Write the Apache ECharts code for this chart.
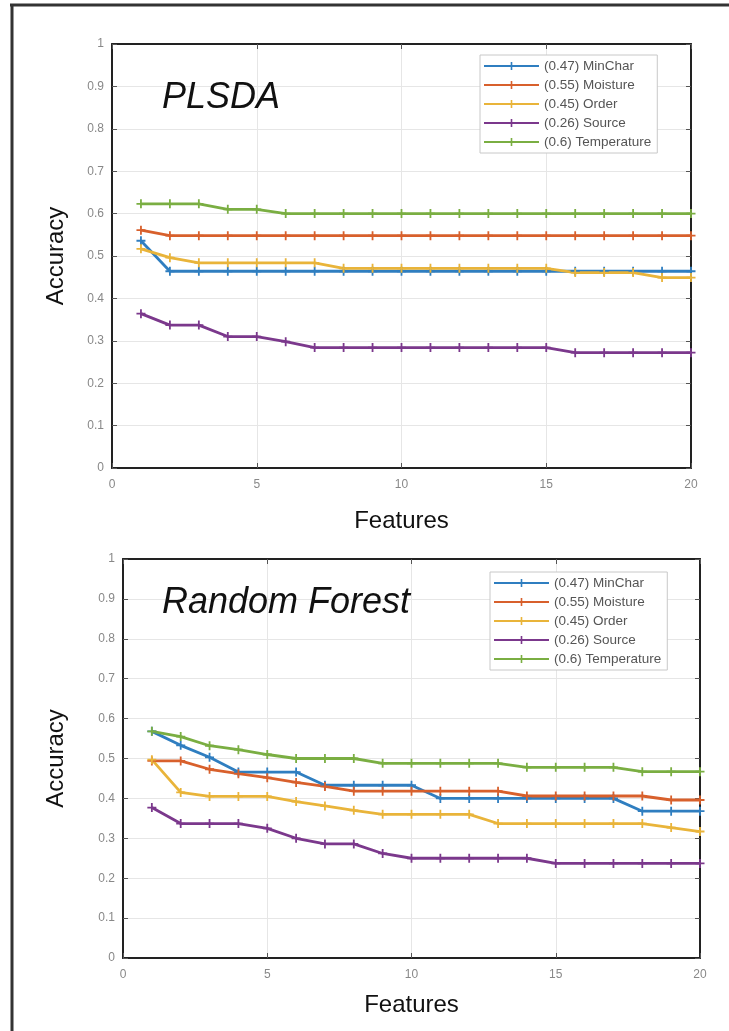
<!DOCTYPE html>
<html>
<head>
<meta charset="utf-8">
<script src="https://cdn.jsdelivr.net/npm/echarts@6/dist/echarts.min.js"></script>
<style>
  html, body { margin: 0; padding: 0; background: #fff; }
  #box { width: 729px; height: 1031px; }
</style>
</head>
<body>
<div id="box"></div>
<script>
// feature counts on the x axis
var features = [1, 2, 3, 4, 5, 6, 7, 8, 9, 10, 11, 12, 13, 14, 15, 16, 17, 18, 19, 20];
var seriesNames = ['(0.47) MinChar', '(0.55) Moisture', '(0.45) Order', '(0.26) Source', '(0.6) Temperature'];
var yTicks = [0, 0.1, 0.2, 0.3, 0.4, 0.5, 0.6, 0.7, 0.8, 0.9, 1];
var xTicks = [0, 5, 10, 15, 20];

// PLSDA
var plsdaMinChar = [0.536, 0.464, 0.464, 0.464, 0.464, 0.464, 0.464, 0.464, 0.464, 0.464, 0.464, 0.464, 0.464, 0.464, 0.464, 0.464, 0.464, 0.464, 0.464, 0.464];
var plsdaMoisture = [0.561, 0.548, 0.548, 0.548, 0.548, 0.548, 0.548, 0.548, 0.548, 0.548, 0.548, 0.548, 0.548, 0.548, 0.548, 0.548, 0.548, 0.548, 0.548, 0.548];
var plsdaOrder = [0.517, 0.496, 0.484, 0.484, 0.484, 0.484, 0.484, 0.471, 0.471, 0.471, 0.471, 0.471, 0.471, 0.471, 0.471, 0.461, 0.461, 0.461, 0.449, 0.449];
var plsdaSource = [0.364, 0.337, 0.337, 0.31, 0.31, 0.298, 0.284, 0.284, 0.284, 0.284, 0.284, 0.284, 0.284, 0.284, 0.284, 0.272, 0.272, 0.272, 0.272, 0.272];
var plsdaTemperature = [0.623, 0.623, 0.623, 0.61, 0.61, 0.6, 0.6, 0.6, 0.6, 0.6, 0.6, 0.6, 0.6, 0.6, 0.6, 0.6, 0.6, 0.6, 0.6, 0.6];

// Random Forest
var rfMinChar = [0.568, 0.533, 0.503, 0.466, 0.466, 0.466, 0.433, 0.433, 0.433, 0.433, 0.4, 0.4, 0.4, 0.4, 0.4, 0.4, 0.4, 0.368, 0.368, 0.368];
var rfMoisture = [0.494, 0.494, 0.473, 0.462, 0.452, 0.44, 0.43, 0.418, 0.418, 0.418, 0.418, 0.418, 0.418, 0.406, 0.406, 0.406, 0.406, 0.406, 0.396, 0.396];
var rfOrder = [0.497, 0.415, 0.405, 0.405, 0.405, 0.392, 0.381, 0.37, 0.36, 0.36, 0.36, 0.36, 0.337, 0.337, 0.337, 0.337, 0.337, 0.337, 0.327, 0.317];
var rfSource = [0.377, 0.337, 0.337, 0.337, 0.325, 0.3, 0.286, 0.286, 0.262, 0.25, 0.25, 0.25, 0.25, 0.25, 0.237, 0.237, 0.237, 0.237, 0.237, 0.237];
var rfTemperature = [0.568, 0.555, 0.532, 0.522, 0.51, 0.5, 0.5, 0.5, 0.488, 0.488, 0.488, 0.488, 0.488, 0.478, 0.478, 0.478, 0.478, 0.467, 0.467, 0.467];

var lineColors = ['#2f7ec0', '#d8602c', '#e9b43a', '#7b388c', '#7aae42'];
var plusMarker = 'path://M4,0H6V4H10V6H6V10H4V6H0V4H4Z';

function pairs(values) {
    return values.map(function (v, i) { return [features[i], v]; });
}

function makeXAxis(gridIndex, nameGap) {
    return [{
        type: 'value',
        gridIndex: gridIndex,
        min: 0, max: 20, interval: 5,
        name: 'Features',
        nameLocation: 'middle',
        nameGap: nameGap,
        nameTextStyle: { fontSize: 24, color: '#111', fontFamily: 'Liberation Sans' },
        axisLine: { show: true, onZero: false, lineStyle: { color: '#222', width: 2 } },
        axisTick: { show: true, inside: true, length: 5, lineStyle: { color: '#555' } },
        axisLabel: { color: '#888', fontSize: 12, margin: 11 },
        splitLine: { show: true, lineStyle: { color: '#e6e6e6', width: 1 } }
    }, {
        type: 'value',
        gridIndex: gridIndex,
        position: 'top',
        min: 0, max: 20, interval: 5,
        axisLine: { show: true, onZero: false, lineStyle: { color: '#222', width: 2 } },
        axisTick: { show: true, inside: true, length: 5, lineStyle: { color: '#555' } },
        axisLabel: { show: false },
        splitLine: { show: false }
    }];
}

function makeYAxis(gridIndex, nameGap) {
    return [{
        type: 'value',
        gridIndex: gridIndex,
        min: 0, max: 1, interval: 0.1,
        name: 'Accuracy',
        nameLocation: 'middle',
        nameGap: nameGap,
        nameTextStyle: { fontSize: 24, color: '#111', fontFamily: 'Liberation Sans' },
        axisLine: { show: true, onZero: false, lineStyle: { color: '#222', width: 2 } },
        axisTick: { show: true, inside: true, length: 5, lineStyle: { color: '#555' } },
        axisLabel: {
            color: '#888', fontSize: 12, margin: 8,
            formatter: function (v) { return String(Math.round(v * 10) / 10); }
        },
        splitLine: { show: true, lineStyle: { color: '#e6e6e6', width: 1 } }
    }, {
        type: 'value',
        gridIndex: gridIndex,
        position: 'right',
        min: 0, max: 1, interval: 0.1,
        axisLine: { show: true, onZero: false, lineStyle: { color: '#222', width: 2 } },
        axisTick: { show: true, inside: true, length: 5, lineStyle: { color: '#555' } },
        axisLabel: { show: false },
        splitLine: { show: false }
    }];
}

function makeSeries(list, axisIndex) {
    return list.map(function (values, k) {
        return {
            name: seriesNames[k],
            type: 'line',
            xAxisIndex: axisIndex,
            yAxisIndex: axisIndex,
            data: pairs(values),
            symbol: plusMarker,
            symbolSize: 9,
            lineStyle: { width: 2.8, color: lineColors[k] },
            itemStyle: { color: lineColors[k] },
            z: 3
        };
    });
}

function makeLegend(left, top) {
    return {
        orient: 'vertical',
        left: left,
        top: top,
        data: seriesNames,
        backgroundColor: '#fff',
        borderColor: '#c8c8c8',
        borderWidth: 1,
        padding: [4, 6, 4, 3],
        itemGap: 5,
        itemWidth: 55,
        itemHeight: 10,
        textStyle: { fontSize: 13.5, color: '#555', fontFamily: 'Liberation Sans' }
    };
}

var dom = document.getElementById('box');
var myChart = echarts.init(dom);

var xAxes = makeXAxis(0, 41).concat(makeXAxis(1, 35));
var yAxes = makeYAxis(0, 44).concat(makeYAxis(1, 55));

var option = {
    animation: false,
    backgroundColor: '#fff',
    textStyle: { fontFamily: 'Liberation Sans' },
    color: lineColors,
    title: [
        { text: 'PLSDA', left: 162, top: 80, padding: 0,
          textStyle: { fontSize: 36, fontStyle: 'italic', fontWeight: 'normal', color: '#111' } },
        { text: 'Random Forest', left: 162, top: 585, padding: 0,
          textStyle: { fontSize: 36, fontStyle: 'italic', fontWeight: 'normal', color: '#111' } }
    ],
    legend: [makeLegend(480, 55), makeLegend(490, 572)],
    grid: [
        { left: 112, right: 38, top: 44, height: 424 },
        { left: 123, right: 29, top: 559, height: 399 }
    ],
    xAxis: xAxes,
    yAxis: yAxes,
    series: makeSeries([plsdaMinChar, plsdaMoisture, plsdaOrder, plsdaSource, plsdaTemperature], 0)
        .concat(makeSeries([rfMinChar, rfMoisture, rfOrder, rfSource, rfTemperature], 2)),
    graphic: [
        { type: 'line', shape: { x1: 10, y1: 5, x2: 729, y2: 5 }, style: { stroke: '#333', lineWidth: 3 } },
        { type: 'line', shape: { x1: 12, y1: 4, x2: 12, y2: 1031 }, style: { stroke: '#333', lineWidth: 3 } }
    ]
};

if (option && typeof option === 'object') {
    myChart.setOption(option, true);
}
</script>
</body>
</html>
